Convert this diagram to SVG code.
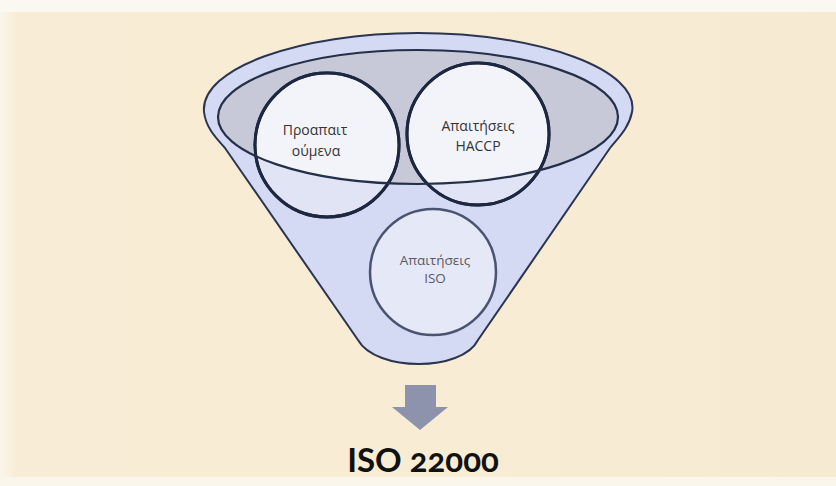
<svg xmlns="http://www.w3.org/2000/svg" width="836" height="486" viewBox="0 0 836 486">
  <defs>
    <linearGradient id="bg" x1="0" y1="0" x2="1" y2="0">
      <stop offset="0" stop-color="#fbf6ea"/>
      <stop offset="0.02" stop-color="#f8ecd6"/>
      <stop offset="0.5" stop-color="#f8ecd4"/>
      <stop offset="1" stop-color="#f6ead3"/>
    </linearGradient>
    <clipPath id="ellClip">
      <ellipse cx="418" cy="117" rx="200" ry="67"/>
    </clipPath>
    <style>
      .funnel { fill: #d4daf3; stroke: #2b3550; stroke-width: 2; }
      .inner { fill: #c8c9d8; }
      .innerline { fill: none; stroke: #243049; stroke-width: 2.2; }
      .circ { fill: #e1e4f5; stroke: #1d2740; stroke-width: 3; }
      .circw { fill: #f3f4f9; }
      .circline { fill: none; stroke: #1d2740; stroke-width: 3; }
      .iso { fill: #e5e8f7; stroke: #4a5470; stroke-width: 2.5; }
      .lbl { font-family: "Open Sans", "Noto Sans", "DejaVu Sans", sans-serif; font-size: 14px; fill: #333338; text-anchor: middle; }
      .lbl2 { font-family: "Open Sans", "Noto Sans", "DejaVu Sans", sans-serif; font-size: 13.5px; fill: #5a5a60; text-anchor: middle; }
      .title { font-family: "Lato", "Open Sans", sans-serif; font-weight: bold; font-size: 33px; fill: #111; text-anchor: middle; font-variant-numeric: oldstyle-nums; }
    </style>
  </defs>

  <rect x="0" y="0" width="836" height="486" fill="url(#bg)"/>
  <rect x="0" y="0" width="836" height="12" fill="#fbf8f1"/>
  <rect x="0" y="477" width="836" height="9" fill="#fbf6ec"/>

  <g id="funnel">
    <path class="funnel" d="M 204,112 C 200,68 300,33 418,33 C 540,33 640,70 632,112 C 629,128 618,138 610,148 L 478,340 C 462,372 376,372 358,340 L 225,148 C 216,138 206,128 204,112 Z"/>
    <ellipse class="inner" cx="418" cy="117" rx="200" ry="67"/>
  </g>

  <g id="iso-req">
    <circle class="iso" cx="433" cy="272" r="63"/>
    <text class="lbl2" x="435" y="265">Απαιτήσεις</text>
    <text class="lbl2" x="435" y="283">ISO</text>
  </g>

  <g id="prereq">
    <circle class="circ" cx="327" cy="145" r="72"/>
    <circle class="circw" cx="327" cy="145" r="70.5" clip-path="url(#ellClip)"/>
    <circle class="circline" cx="327" cy="145" r="72"/>
    <text class="lbl" x="315" y="135">Προαπαιτ</text>
    <text class="lbl" x="316" y="156">ούμενα</text>
  </g>

  <g id="haccp">
    <circle class="circ" cx="478" cy="134" r="71"/>
    <circle class="circw" cx="478" cy="134" r="69.5" clip-path="url(#ellClip)"/>
    <circle class="circline" cx="478" cy="134" r="71"/>
    <text class="lbl" x="478" y="131">Απαιτήσεις</text>
    <text class="lbl" x="478" y="151">HACCP</text>
  </g>

  <g id="connectors">
    <ellipse class="innerline" cx="418" cy="117" rx="200" ry="67"/>
    <path d="M 405,385 L 436,385 L 436,407 L 448,407 L 420,430 L 392,407 L 405,407 Z" fill="#8e93ad"/>
  </g>

  <g id="result">
    <text class="title" x="423" y="472">ISO 22000</text>
  </g>
</svg>
